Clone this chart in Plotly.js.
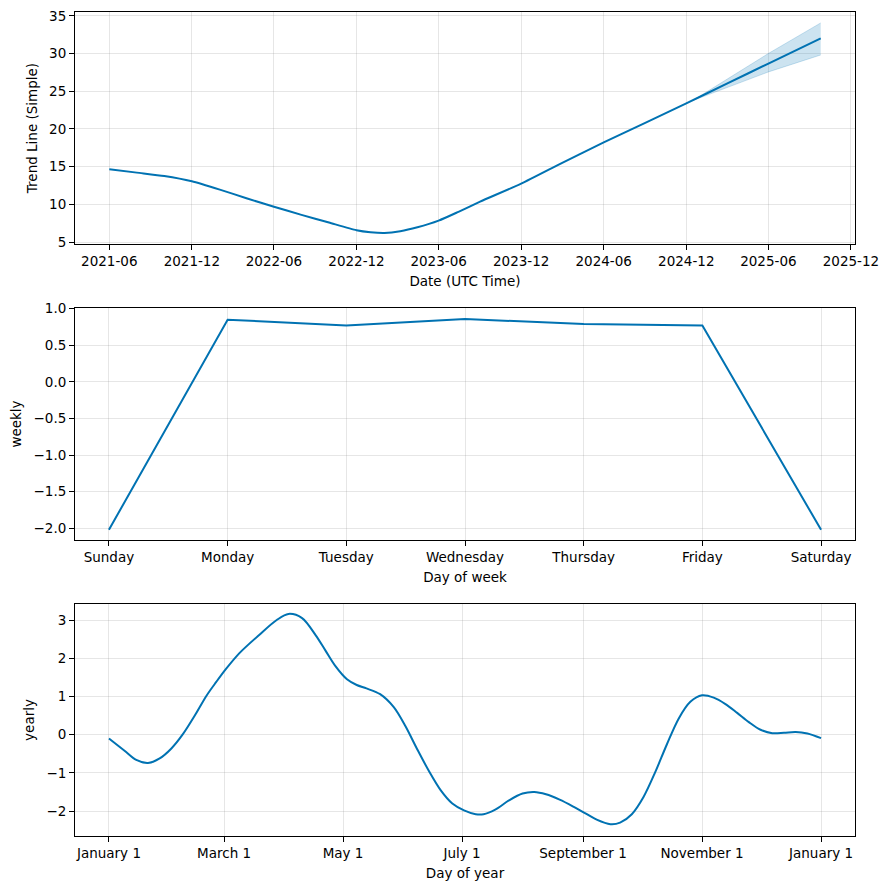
<!DOCTYPE html>
<html>
<head>
<meta charset="utf-8">
<script src="https://cdn.plot.ly/plotly-3.0.1.min.js"></script>
<style>html,body{margin:0;padding:0;background:#fff;}#chart{width:889px;height:889px;}</style>
</head>
<body>
<div id="chart"></div>
<script>
// ---- Trend panel data ----
const trendDates = ['2021-06-01','2021-08-01','2021-10-01','2021-12-01','2022-02-01','2022-04-01','2022-06-01','2022-08-01','2022-10-01','2022-12-01','2023-01-01','2023-02-01','2023-03-08','2023-04-15','2023-06-01','2023-07-15','2023-09-01','2023-12-01','2024-03-01','2024-06-01','2024-09-01','2024-12-01','2025-03-01','2025-06-01','2025-09-25'];
const trendValues = [14.65, 14.2, 13.75, 13.05, 11.95, 10.8, 9.68, 8.6, 7.58, 6.57, 6.3, 6.2, 6.43, 6.95, 7.83, 9.0, 10.35, 12.74, 15.5, 18.21, 20.8, 23.38, 26.0, 28.66, 32.0];
const bandDates = ['2024-12-15','2025-03-01','2025-06-01','2025-09-25'];
const bandUpper = [23.75, 26.6, 30.0, 34.05];
const bandLower = [23.75, 25.5, 27.55, 29.8];
const trendTickFormat = '%Y-%m';

// ---- Weekly panel data ----
const weekDays = ['Sunday','Monday','Tuesday','Wednesday','Thursday','Friday','Saturday'];
const weeklyValues = [-2.02, 0.85, 0.77, 0.86, 0.79, 0.77, -2.02];

// ---- Yearly panel data (day of year) ----
const yearDays = [0, 8, 14, 20, 26, 32, 38, 44, 50, 55, 60, 67, 77, 86, 92, 99, 106, 111, 116, 122, 127, 132, 139, 146, 152, 158, 164, 170, 176, 182, 188, 192, 198, 205, 212, 218, 224, 231, 238, 244, 250, 257, 262, 268, 274, 280, 286, 292, 298, 304, 310, 316, 322, 328, 334, 340, 346, 352, 358, 365];
const yearlyValues = [-0.10, -0.42, -0.66, -0.74, -0.62, -0.36, 0.02, 0.50, 1.02, 1.38, 1.72, 2.14, 2.61, 3.00, 3.16, 3.05, 2.60, 2.20, 1.80, 1.45, 1.30, 1.21, 1.06, 0.72, 0.22, -0.38, -0.95, -1.45, -1.80, -1.98, -2.08, -2.08, -1.96, -1.72, -1.54, -1.50, -1.56, -1.70, -1.88, -2.05, -2.22, -2.34, -2.30, -2.08, -1.63, -0.98, -0.25, 0.42, 0.86, 1.03, 0.97, 0.80, 0.57, 0.33, 0.13, 0.04, 0.05, 0.07, 0.03, -0.09];
const yearTickDays = [0, 59, 120, 181, 243, 304, 365];
const yearTickLabels = ['January 1','March 1','May 1','July 1','September 1','November 1','January 1'];

function dayToDate(d){
  const t = Date.UTC(2017,0,1) + d*86400000;
  return new Date(t).toISOString().slice(0,19).replace('T',' ');
}
const yearDates = yearDays.map(dayToDate);
const yearTickVals = yearTickDays.map(dayToDate);

const lineColor = '#0072B2';
const bandColor = 'rgba(0,114,178,0.2)';
const gridColor = 'rgba(128,128,128,0.2)';
const font = {family: 'DejaVu Sans', size: 13.5, color: '#000'};

const traces = [
  {x: trendDates, y: trendValues, type: 'scatter', mode: 'lines', line: {color: lineColor, width: 2, shape: 'spline', smoothing: 0.6}, xaxis: 'x', yaxis: 'y', hoverinfo: 'skip'},
  {x: bandDates, y: bandLower, type: 'scatter', mode: 'lines', line: {color: bandColor, width: 1}, xaxis: 'x', yaxis: 'y', hoverinfo: 'skip'},
  {x: bandDates, y: bandUpper, type: 'scatter', mode: 'lines', line: {color: bandColor, width: 1}, fill: 'tonexty', fillcolor: bandColor, xaxis: 'x', yaxis: 'y', hoverinfo: 'skip'},
  {x: [0,1,2,3,4,5,6], y: weeklyValues, type: 'scatter', mode: 'lines', line: {color: lineColor, width: 2}, xaxis: 'x2', yaxis: 'y2', hoverinfo: 'skip'},
  {x: yearDates, y: yearlyValues, type: 'scatter', mode: 'lines', line: {color: lineColor, width: 2, shape: 'spline', smoothing: 0.9}, xaxis: 'x3', yaxis: 'y3', hoverinfo: 'skip'}
];

const axisBase = {
  showline: true, linecolor: '#000', linewidth: 1, mirror: true,
  ticks: 'outside', ticklen: 5, tickwidth: 1, tickcolor: '#000',
  showgrid: true, gridcolor: gridColor, gridwidth: 1, zeroline: false,
  tickfont: font
};

const layout = {
  width: 889, height: 889,
  margin: {l: 75, r: 34, t: 12, b: 53},
  paper_bgcolor: '#fff', plot_bgcolor: '#fff',
  showlegend: false, font: font,
  xaxis: Object.assign({}, axisBase, {type: 'date', anchor: 'y', domain: [0,1], range: ['2021-03-17','2025-12-10'], tick0: '2021-06-01', dtick: 'M6', tickformat: trendTickFormat, title: {text: 'Date (UTC Time)', font: font, standoff: 8}}),
  yaxis: Object.assign({}, axisBase, {anchor: 'x', domain: [0.7184, 1], range: [4.73, 35.5], dtick: 5, tick0: 0, title: {text: 'Trend Line (Simple)', font: font, standoff: 8}}),
  xaxis2: Object.assign({}, axisBase, {anchor: 'y2', domain: [0,1], range: [-0.286, 6.286], tickvals: [0,1,2,3,4,5,6], ticktext: weekDays, title: {text: 'Day of week', font: font, standoff: 8}}),
  yaxis2: Object.assign({}, axisBase, {anchor: 'x2', domain: [0.3592, 0.6408], range: [-2.16, 1.01], dtick: 0.5, tick0: 0, tickformat: '.1f', title: {text: 'weekly', font: font, standoff: 8}}),
  xaxis3: Object.assign({}, axisBase, {type: 'date', anchor: 'y3', domain: [0,1], range: [dayToDate(-17.4), dayToDate(382.4)], tickvals: yearTickVals, ticktext: yearTickLabels, title: {text: 'Day of year', font: font, standoff: 8}}),
  yaxis3: Object.assign({}, axisBase, {anchor: 'x3', domain: [0, 0.2816], range: [-2.65, 3.42], dtick: 1, tick0: 0, title: {text: 'yearly', font: font, standoff: 8}})
};

Plotly.newPlot('chart', traces, layout, {staticPlot: true, displayModeBar: false});
</script>
</body>
</html>
